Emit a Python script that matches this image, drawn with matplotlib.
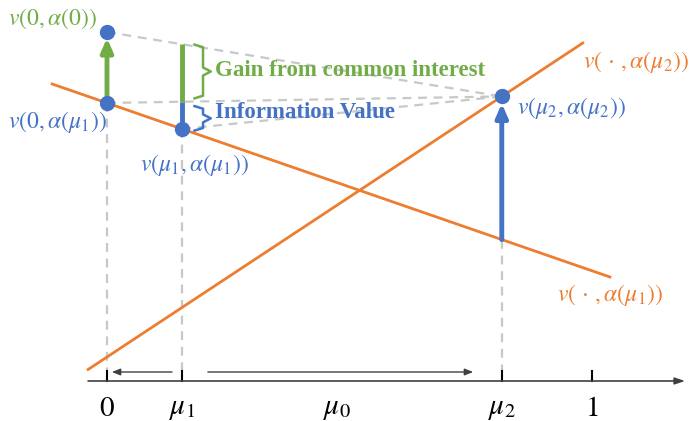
import numpy as np
import matplotlib.pyplot as plt
from matplotlib.path import Path
from matplotlib.patches import PathPatch

plt.rcParams['mathtext.fontset'] = 'stix'

ORANGE = '#ED7D31'
BLUE = '#4472C4'
GREEN = '#70AD47'
GRAY = '#C8C8C8'

# beliefs on the horizontal axis
tick_pos = [0.0, 0.155, 0.814, 1.0]
tick_labels = ['$0$', r'$\mu_1$', r'$\mu_2$', '$1$']
mu0 = 0.474
mu1, mu2 = tick_pos[1], tick_pos[2]

# value lines v(., alpha(mu1)) and v(., alpha(mu2)), endpoints
line1_x = [-0.113, 1.037]
line1_y = [2.97, 1.04]
line2_x = [-0.039, 0.981]
line2_y = [0.115, 3.38]

# points
v0_alpha0 = 3.49
v0_alpha1 = np.interp(0.0, line1_x, line1_y)
vmu1_alpha1 = np.interp(mu1, line1_x, line1_y)
vmu2_alpha2 = np.interp(mu2, line2_x, line2_y)
vmu2_alpha1 = np.interp(mu2, line1_x, line1_y)

fig = plt.figure(figsize=(6.92, 4.21), dpi=100)
ax = fig.add_axes([0, 0, 1, 1])
ax.set_xlim(-0.2206, 1.2062)
ax.set_ylim(-0.40, 3.81)
ax.axis('off')

# dashed guides
dash = dict(color=GRAY, lw=1.6, ls=(0, (4, 3)), zorder=1)
ax.plot([0, mu2], [v0_alpha0, vmu2_alpha2], **dash)
ax.plot([0, mu2], [v0_alpha1, vmu2_alpha2], **dash)
ax.plot([mu1, mu2], [vmu1_alpha1, vmu2_alpha2], **dash)
ax.plot([0, 0], [v0_alpha1, 0.1], **dash)
ax.plot([mu1, mu1], [vmu1_alpha1, 0.1], **dash)
ax.plot([mu2, mu2], [vmu2_alpha1, 0.1], **dash)

# orange lines
ax.plot(line1_x, line1_y, color=ORANGE, lw=2, zorder=2)
ax.plot(line2_x, line2_y, color=ORANGE, lw=2, zorder=2)

# vertical segments at mu1
top_mu1 = np.interp(mu1, [0, mu2], [v0_alpha0, vmu2_alpha2])
mid_mu1 = np.interp(mu1, [0, mu2], [v0_alpha1, vmu2_alpha2])
ax.plot([mu1, mu1], [top_mu1, mid_mu1], color=GREEN, lw=3.5, zorder=3, solid_capstyle='butt')
ax.plot([mu1, mu1], [mid_mu1, vmu1_alpha1], color=BLUE, lw=3.5, zorder=3, solid_capstyle='butt')

# arrows
ax.annotate('', xy=(0, v0_alpha0 - 0.06), xytext=(0, v0_alpha1),
            arrowprops=dict(arrowstyle='-|>,head_width=0.35,head_length=0.8',
                            color=GREEN, lw=3.5, shrinkA=0, shrinkB=0), zorder=3)
ax.annotate('', xy=(mu2, vmu2_alpha2 - 0.07), xytext=(mu2, vmu2_alpha1),
            arrowprops=dict(arrowstyle='-|>,head_width=0.35,head_length=0.8',
                            color=BLUE, lw=3.5, shrinkA=0, shrinkB=0), zorder=3)

# points
ax.plot([0, 0, mu1, mu2], [v0_alpha0, v0_alpha1, vmu1_alpha1, vmu2_alpha2], 'o',
        color=BLUE, ms=10, zorder=4)


def brace(x, top, bottom, color):
    w = 0.02
    mid = (top + bottom) / 2
    verts = [(x, top), (x + w, top - 0.03), (x + w, mid + 0.04), (x + 1.8 * w, mid),
             (x + w, mid - 0.04), (x + w, bottom + 0.03), (x, bottom)]
    codes = [Path.MOVETO] + [Path.LINETO] * 6
    ax.add_patch(PathPatch(Path(verts, codes), fill=False, edgecolor=color, lw=1.8,
                           zorder=3, joinstyle='round'))


brace(0.178, top_mu1 + 0.0, mid_mu1 + 0.03, GREEN)
brace(0.178, mid_mu1 - 0.04, vmu1_alpha1 - 0.02, BLUE)

serif = dict(family='Liberation Serif', weight='bold', fontsize=16.5)
ax.text(0.223, (top_mu1 + mid_mu1) / 2 + 0.02, 'Gain from common interest', color=GREEN,
        va='center', ha='left', **serif)
ax.text(0.223, (mid_mu1 + vmu1_alpha1) / 2 + 0.03, 'Information Value', color=BLUE,
        va='center', ha='left', **serif)

# labels
lab = dict(fontsize=17)
ax.text(-0.205, 3.62, r'$v(0,\alpha(0))$', color=GREEN, va='center', ha='left', **lab)
ax.text(-0.205, 2.59, r'$v(0,\alpha(\mu_1))$', color=BLUE, va='center', ha='left', **lab)
ax.text(0.068, 2.16, r'$v(\mu_1,\alpha(\mu_1))$', color=BLUE, va='center', ha='left', **lab)
ax.text(0.845, 2.73, r'$v(\mu_2,\alpha(\mu_2))$', color=BLUE, va='center', ha='left', **lab)
ax.text(0.981, 3.19, r'$v(\,\cdot\,,\alpha(\mu_2))$', color=ORANGE, va='center', ha='left', **lab)
ax.text(0.928, 0.86, r'$v(\,\cdot\,,\alpha(\mu_1))$', color=ORANGE, va='center', ha='left', **lab)

# horizontal axis
ax.annotate('', xy=(1.192, 0), xytext=(-0.039, 0),
            arrowprops=dict(arrowstyle='-|>,head_width=0.2,head_length=0.6',
                            color='#404040', lw=1.2, shrinkA=0, shrinkB=0))
for p, t in zip(tick_pos, tick_labels):
    ax.plot([p, p], [0, 0.1], color='black', lw=1.5)
    ax.text(p, -0.27, t, ha='center', va='center', fontsize=21)
ax.text(mu0, -0.27, r'$\mu_0$', ha='center', va='center', fontsize=21)

# belief-splitting arrows
arr = dict(arrowstyle='-|>,head_width=0.2,head_length=0.5', color='#404040', lw=1.0,
           shrinkA=0, shrinkB=0)
ax.annotate('', xy=(0.01, 0.09), xytext=(0.134, 0.09), arrowprops=arr)
ax.annotate('', xy=(0.755, 0.09), xytext=(0.208, 0.09), arrowprops=arr)

fig.savefig('out.png', dpi=100)
